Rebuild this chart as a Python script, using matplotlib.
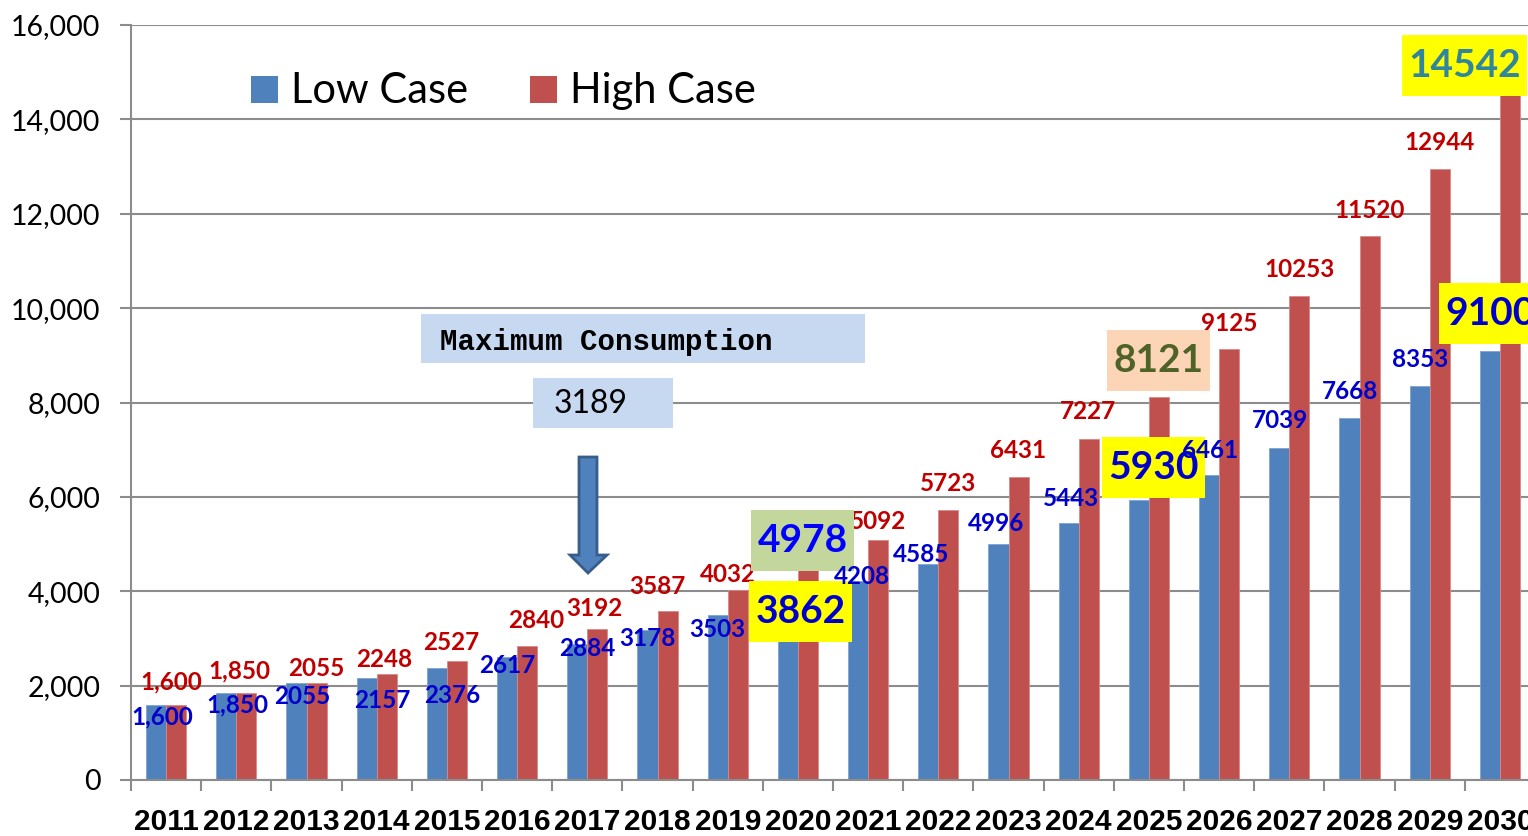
import matplotlib
matplotlib.use("Agg")
import matplotlib.pyplot as plt
from matplotlib.patches import Rectangle, Polygon
from matplotlib.ticker import FuncFormatter, MultipleLocator
import numpy as np

# chart data
years = [2011, 2012, 2013, 2014, 2015, 2016, 2017, 2018, 2019, 2020,
         2021, 2022, 2023, 2024, 2025, 2026, 2027, 2028, 2029, 2030]
low_case = [1600, 1850, 2055, 2157, 2376, 2617, 2884, 3178, 3503, 3862,
            4208, 4585, 4996, 5443, 5930, 6461, 7039, 7668, 8353, 9100]
high_case = [1600, 1850, 2055, 2248, 2527, 2840, 3192, 3587, 4032, 4978,
             5092, 5723, 6431, 7227, 8121, 9125, 10253, 11520, 12944, 14542]
max_consumption = 3189

# label placement (offset from category centre, x in categories, y in MW)
low_dx = [-0.057, 0.01, -0.064, 0.075, 0.07, -0.14, 0.0, -0.15, -0.15, 0.04,
          -0.09, -0.25, -0.18, -0.11, 0.06, -0.13, -0.13, -0.135, -0.14, -0.14]
low_dy = [-265, -261, -275, -462, -575, -201, -87, -169, -324, -281,
          94, 204, 450, 512, 700, 532, 569, 575, 568, 796]
high_dx = [0.07, 0.04, 0.135, 0.10, 0.06, 0.27, 0.095, 0.0, 0.0, 0.07,
           0.14, 0.14, 0.135, 0.13, 0.14, 0.14, 0.14, 0.14, 0.14, -0.5]
high_dy = [477, 460, 318, 316, 397, 550, 453, 524, 333, 108,
           396, 571, 562, 592, 779, 559, 576, 559, 576, 609]

# highlighted years: index -> (box colour, text colour)
low_boxes = {9: ("#FFFF00", "#0000CC"), 14: ("#FFFF00", "#0000CC"), 19: ("#FFFF00", "#0000CC")}
high_boxes = {9: ("#C3D69B", "#0000FF"), 14: ("#FBD5B5", "#4F6228"), 19: ("#FFFF00", "#31859C")}

W, H = 1528, 836
fig = plt.figure(figsize=(W / 100, H / 100), dpi=100)
ax = fig.add_axes([131 / W, 56 / H, (1535 - 131) / W, 755 / H])

blue = "#4F81BD"
red = "#C0504D"
x = np.arange(len(years))
bw = 0.285
ax.bar(x - bw / 2, low_case, bw, color=blue, edgecolor="#7FA3CF", linewidth=0.6, zorder=2)
ax.bar(x + bw / 2, high_case, bw, color=red, edgecolor="#D88A88", linewidth=0.6, zorder=2)

ax.set_xlim(-0.5, len(years) - 0.5)
ax.set_ylim(0, 16000)
ax.yaxis.set_major_locator(MultipleLocator(2000))
ax.yaxis.set_major_formatter(FuncFormatter(lambda v, p: f"{int(v):,}"))
ax.grid(axis="y", color="#8C8C8C", linewidth=1.5, zorder=0)
ax.set_axisbelow(True)

for s in ["top", "right"]:
    ax.spines[s].set_visible(False)
for s in ["left", "bottom"]:
    ax.spines[s].set_color("#8C8C8C")
    ax.spines[s].set_linewidth(1.5)

ax.set_xticks(x)
ax.set_xticklabels([str(y) for y in years], fontfamily="Liberation Sans",
                   fontweight="bold", fontsize=21.5)
ax.set_xticks(np.arange(len(years) + 1) - 0.5, minor=True)
ax.tick_params(axis="x", which="major", length=0, pad=20.5)
ax.tick_params(axis="x", which="minor", length=8, width=1.5, color="#8C8C8C")
ax.tick_params(axis="y", length=8, width=1.5, color="#8C8C8C", pad=14)
for t in ax.get_yticklabels():
    t.set_fontfamily("Lato")
    t.set_fontsize(20.5)

px_cat = 1404 / len(years)
px_val = 755 / 16000


def label_text(i, v):
    return f"{v:,}" if years[i] < 2013 else str(v)


def box_label(xc, yc, txt, fc, tc, wpx=103):
    bwid = wpx / px_cat
    bh = 61 / px_val
    ax.add_patch(Rectangle((xc - bwid / 2, yc - bh / 2), bwid, bh, facecolor=fc,
                           edgecolor="none", zorder=5, clip_on=False))
    ax.text(xc, yc, txt, color=tc, fontsize=28, fontweight="bold", fontfamily="Lato",
            ha="center", va="center", zorder=6, clip_on=False)


for i, v in enumerate(high_case):
    xc, yc = i + high_dx[i], v + high_dy[i]
    if i in high_boxes:
        fc, tc = high_boxes[i]
        box_label(xc, yc, str(v), fc, tc, 125 if i == 19 else 103)
    else:
        ax.text(xc, yc, label_text(i, v), color="#C00000", fontsize=17.5, fontweight="bold",
                fontfamily="Lato", ha="center", va="center", zorder=4)

for i, v in enumerate(low_case):
    xc, yc = i + low_dx[i], v + low_dy[i]
    if i in low_boxes:
        fc, tc = low_boxes[i]
        box_label(xc, yc, str(v), fc, tc)
    else:
        ax.text(xc, yc, label_text(i, v), color="#0000CC", fontsize=17.5, fontweight="bold",
                fontfamily="Lato", ha="center", va="center", zorder=7)

# legend drawn by hand to sit inside the plot
def fx(p):
    return p / W


def fy(p):
    return 1 - p / H


fig.patches.append(Rectangle((fx(251), fy(103)), 27 / W, 27 / H, transform=fig.transFigure,
                             facecolor=blue, edgecolor="none"))
fig.text(fx(291), fy(103), "Low Case", fontsize=30, fontfamily="Lato", va="baseline", ha="left")
fig.patches.append(Rectangle((fx(530), fy(103)), 27 / W, 27 / H, transform=fig.transFigure,
                             facecolor=red, edgecolor="none"))
fig.text(fx(570), fy(103), "High Case", fontsize=30, fontfamily="Lato", va="baseline", ha="left")

# maximum consumption callout
fig.patches.append(Rectangle((fx(421), fy(363)), 444 / W, 49 / H, transform=fig.transFigure,
                             facecolor="#C6D9F1", edgecolor="none", zorder=3))
fig.text(fx(440), fy(342), "Maximum Consumption", fontsize=21, fontfamily="Liberation Mono",
         fontweight="bold", va="center", ha="left", zorder=4)
fig.patches.append(Rectangle((fx(533), fy(428)), 140 / W, 50 / H, transform=fig.transFigure,
                             facecolor="#C6D9F1", edgecolor="none", zorder=3))
fig.text(fx(554), fy(404), str(max_consumption), fontsize=23, fontfamily="Lato",
         va="center", ha="left", zorder=4)

arrow_px = [(579, 457), (597, 457), (597, 555), (607, 555), (588, 573), (570, 555), (579, 555)]
fig.patches.append(Polygon([(fx(a), fy(b)) for a, b in arrow_px], closed=True,
                           transform=fig.transFigure, facecolor=blue, edgecolor="#385D8A",
                           linewidth=2, zorder=3))

fig.savefig("out.png", dpi=100)
